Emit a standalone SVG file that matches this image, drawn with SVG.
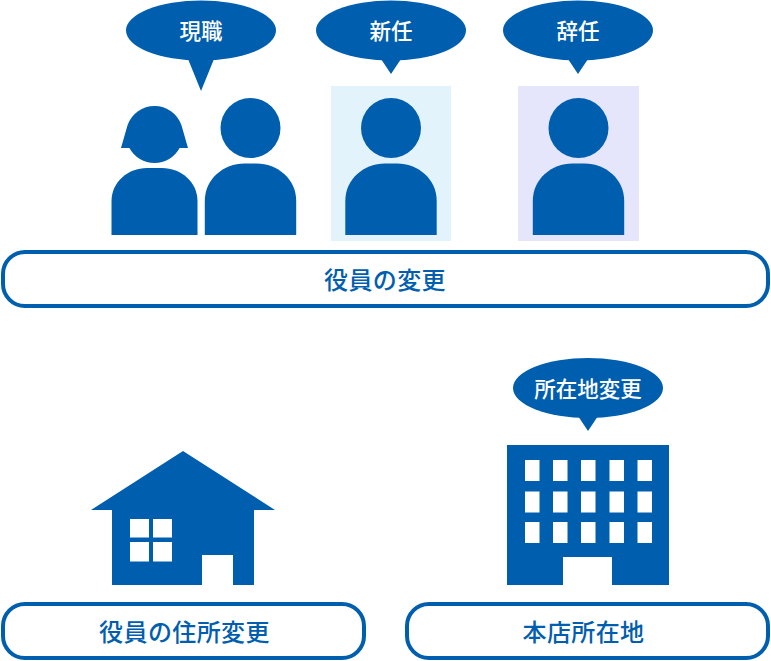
<svg xmlns="http://www.w3.org/2000/svg" width="771" height="661" viewBox="0 0 771 661">
<style>
.b{fill:#005eae}
.w{fill:#fff}
.box{fill:#fff;stroke:#005eae;stroke-width:4}
text{font-family:"Noto Sans CJK JP","Noto Sans",sans-serif;font-weight:500;text-anchor:middle}
.l{font-size:24px;letter-spacing:.4px;fill:#005eae}
.s{font-size:21.500px;fill:#fff}
</style>
<defs>
<g id="man"><circle cx="0" cy="128" r="30" class="b"/><path class="b" d="M-45.700 235V201C-45.700 179 -27 163.500 -6 163.500H6C27 163.500 45.700 179 45.700 201V235Z"/></g>
</defs>
<g id="person-current">
<path class="b" d="M121 148 L127.600 125 A28.500 28.500 0 0 1 181.400 125 L188 148 H179.600 A28.500 28.500 0 0 1 129.400 148Z"/>
<path class="b" d="M111.500 235V201C111.500 182 128 168 147 168H162C181 168 197.500 182 197.500 201V235Z"/>
<use href="#man" x="250.500"/>
</g>
<g id="bubble-current"><ellipse cx="201" cy="30.500" rx="75" ry="30" class="b"/><path class="b" d="M188 59L201 91L214 59Z"/><text class="s" x="201" y="38.500">現職</text></g>
<g id="person-new"><rect x="331" y="86" width="120" height="155" fill="#e3f3fc"/><use href="#man" x="391"/></g>
<g id="bubble-new"><ellipse cx="391" cy="30.500" rx="75" ry="30" class="b"/><path class="b" d="M381 59L391 74L401 59Z"/><text class="s" x="391" y="38.500">新任</text></g>
<g id="person-resign"><rect x="518" y="86" width="121" height="155" fill="#e5e5fb"/><use href="#man" x="578.500"/></g>
<g id="bubble-resign"><ellipse cx="578" cy="30.500" rx="75" ry="30" class="b"/><path class="b" d="M568 59L578 74L588 59Z"/><text class="s" x="578" y="38.500">辞任</text></g>
<g id="label-officers"><rect class="box" x="3" y="252" width="765" height="54" rx="22"/><text class="l" x="385" y="289">役員の変更</text></g>
<g id="house">
<path class="b" d="M91 510L183 451L275 510H254V585H233V555H202V585H112V510Z"/>
<path class="w" d="M130 519H149V537.500H130ZM153 519H172V537.500H153ZM130 542H149V561.500H130ZM153 542H172V561.500H153Z"/>
</g>
<g id="label-address"><rect class="box" x="3" y="604" width="361" height="54" rx="22"/><text class="l" x="184.500" y="640.500">役員の住所変更</text></g>
<g id="building">
<path class="b" d="M507 445H669V585H612V557H563V585H507Z"/>
<path class="w" d="M525 460h14.500v21h-14.500ZM553 460h14.500v21h-14.500ZM581 460h14.500v21h-14.500ZM609.500 460h14.500v21h-14.500ZM637.500 460h14.500v21h-14.500ZM525 491.500h14.500v21h-14.500ZM553 491.500h14.500v21h-14.500ZM581 491.500h14.500v21h-14.500ZM609.500 491.500h14.500v21h-14.500ZM637.500 491.500h14.500v21h-14.500ZM525 522h14.500v21h-14.500ZM553 522h14.500v21h-14.500ZM581 522h14.500v21h-14.500ZM609.500 522h14.500v21h-14.500ZM637.500 522h14.500v21h-14.500Z"/>
</g>
<g id="bubble-location"><ellipse cx="588" cy="388" rx="75" ry="30" class="b"/><path class="b" d="M578 416L588 431L598 416Z"/><text class="s" x="588" y="396.500">所在地変更</text></g>
<g id="label-head"><rect class="box" x="407" y="604" width="361" height="54" rx="22"/><text class="l" x="583.500" y="640.500">本店所在地</text></g>
<g id="connectors"/>
</svg>
